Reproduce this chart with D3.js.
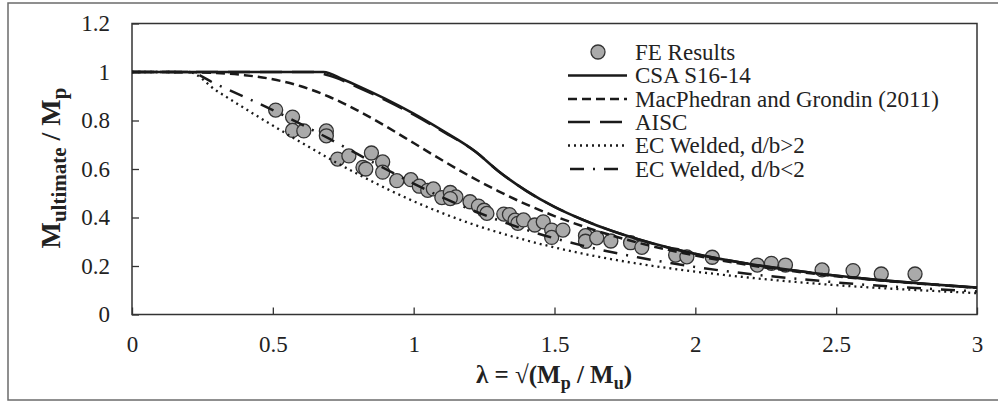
<!DOCTYPE html>
<html>
<head>
<meta charset="utf-8">
<script src="https://cdn.jsdelivr.net/npm/d3@7"></script>
<style>
  body { margin: 0; background: #fff; }
  text { font-family: "Liberation Serif", "Times New Roman", serif; fill: #222; }
  .tick text { font-size: 23px; font-family: "Liberation Serif", "Times New Roman", serif; }
  .legend text { font-size: 23px; }
  .title { font-weight: bold; }
</style>
</head>
<body>
<div class="chart"></div>
<script>
// FE results (scatter)
var feLambda = [0.51, 0.57, 0.57, 0.61, 0.69, 0.69, 0.73, 0.77, 0.85, 0.89, 0.82, 0.83, 0.89, 0.94, 0.99,
  1.02, 1.05, 1.07, 1.10, 1.13, 1.15, 1.13, 1.20, 1.23, 1.25, 1.26, 1.32, 1.34, 1.36, 1.37, 1.39, 1.43,
  1.46, 1.49, 1.49, 1.53, 1.61, 1.61, 1.65, 1.70, 1.77, 1.81, 1.93, 1.97, 2.06, 2.22, 2.27, 2.32, 2.45,
  2.56, 2.66, 2.78];
var feRatio = [0.843, 0.814, 0.759, 0.757, 0.757, 0.737, 0.641, 0.654, 0.666, 0.629, 0.607, 0.600, 0.587, 0.552, 0.556,
  0.529, 0.512, 0.518, 0.482, 0.503, 0.485, 0.478, 0.465, 0.447, 0.430, 0.417, 0.414, 0.412, 0.389, 0.376, 0.390, 0.369,
  0.382, 0.348, 0.318, 0.348, 0.325, 0.302, 0.316, 0.303, 0.296, 0.277, 0.245, 0.238, 0.236, 0.204, 0.211, 0.204, 0.184,
  0.181, 0.167, 0.167];

// CSA S16-14
var csaLambda = [0, 0.68, 0.75, 0.8, 0.9, 1.0, 1.1, 1.22, 1.3, 1.4, 1.5, 1.6, 1.7, 1.8, 2.0, 2.2, 2.4, 2.6, 2.8, 3.0];
var csaRatio = [1, 1, 0.969, 0.944, 0.889, 0.828, 0.760, 0.671, 0.592, 0.510, 0.444, 0.391, 0.346, 0.309, 0.250, 0.207, 0.174, 0.148, 0.128, 0.111];

// MacPhedran and Grondin (2011)
var mgLambda = [0, 0.2, 0.3, 0.4, 0.5, 0.6, 0.7, 0.8, 0.9, 1.0, 1.1, 1.2, 1.3, 1.4, 1.5, 1.6, 1.8, 2.0, 2.2, 2.4, 2.6, 2.8, 3.0];
var mgRatio = [1, 0.999, 0.996, 0.987, 0.970, 0.941, 0.898, 0.842, 0.777, 0.707, 0.637, 0.570, 0.509, 0.454, 0.406, 0.364, 0.295, 0.243, 0.202, 0.171, 0.146, 0.127, 0.110];

// AISC
var aiscLambda = [0, 0.64, 0.7, 0.8, 0.9, 1.0, 1.1, 1.22, 1.3, 1.4, 1.5, 1.6, 1.8, 2.0, 2.2, 2.4, 2.6, 2.8, 3.0];
var aiscRatio = [1, 1, 0.985, 0.938, 0.884, 0.824, 0.757, 0.671, 0.592, 0.510, 0.444, 0.391, 0.309, 0.250, 0.207, 0.174, 0.148, 0.128, 0.111];

// EC Welded, d/b>2
var ecdLambda = [0, 0.2, 0.3, 0.4, 0.5, 0.6, 0.7, 0.8, 0.9, 1.0, 1.1, 1.2, 1.4, 1.6, 1.8, 2.0, 2.2, 2.4, 2.6, 2.8, 3.0];
var ecdRatio = [1, 1, 0.923, 0.850, 0.779, 0.710, 0.643, 0.580, 0.521, 0.467, 0.419, 0.376, 0.306, 0.251, 0.209, 0.177, 0.151, 0.130, 0.113, 0.100, 0.088];

// EC Welded, d/b<2
var eccLambda = [0, 0.2, 0.3, 0.4, 0.5, 0.6, 0.7, 0.8, 0.9, 1.0, 1.1, 1.2, 1.4, 1.6, 1.8, 2.0, 2.2, 2.4, 2.6, 2.8, 3.0];
var eccRatio = [1, 1, 0.949, 0.897, 0.843, 0.785, 0.725, 0.662, 0.600, 0.540, 0.484, 0.434, 0.349, 0.284, 0.235, 0.196, 0.166, 0.143, 0.123, 0.108, 0.095];

var xTicks = [0, 0.5, 1, 1.5, 2, 2.5, 3];
var yTicks = [0, 0.2, 0.4, 0.6, 0.8, 1, 1.2];

var legendNames = ["FE Results", "CSA S16-14", "MacPhedran and Grondin (2011)", "AISC", "EC Welded, d/b>2", "EC Welded, d/b<2"];

// dimensions
var margin = {top: 23.5, right: 21, bottom: 87.5, left: 132};
var width = 998 - margin.left - margin.right;
var height = 402 - margin.top - margin.bottom;

var x = d3.scaleLinear().domain([0, 3]).range([0, width]);
var y = d3.scaleLinear().domain([0, 1.2]).range([height, 0]);

var svg = d3.select(".chart")
  .append("svg")
  .attr("width", 998)
  .attr("height", 402);

// outer figure border
svg.append("rect")
  .attr("x", 8).attr("y", 3)
  .attr("width", 1000).attr("height", 397)
  .attr("fill", "none")
  .attr("stroke", "#6b6b6b")
  .attr("stroke-width", 1.5);

var chart = svg.append("g")
  .attr("transform", "translate(" + margin.left + "," + margin.top + ")");

// axes (ticks inward)
chart.append("g")
  .attr("transform", "translate(0," + height + ")")
  .call(d3.axisBottom(x).tickValues(xTicks).tickFormat(d3.format("~g"))
    .tickSizeInner(-7).tickSizeOuter(0).tickPadding(21))
  .call(function(g) { g.select(".domain").remove(); });

chart.append("g")
  .call(d3.axisLeft(y).tickValues(yTicks).tickFormat(d3.format("~g"))
    .tickSizeInner(-7).tickSizeOuter(0).tickPadding(22))
  .call(function(g) { g.select(".domain").remove(); });

chart.selectAll(".tick line").attr("stroke", "#333").attr("stroke-width", 1.3);

// plot frame
chart.append("rect")
  .attr("width", width).attr("height", height)
  .attr("fill", "none")
  .attr("stroke", "#333")
  .attr("stroke-width", 1.5);

// FE results
chart.selectAll(".fe")
  .data(feLambda)
  .enter()
  .append("circle")
  .attr("class", "fe")
  .attr("cx", function(d) { return x(d); })
  .attr("cy", function(d, i) { return y(feRatio[i]); })
  .attr("r", 7)
  .attr("fill", "#aaaaaa")
  .attr("stroke", "#333")
  .attr("stroke-width", 1.3);

// design curves
var series = [
  {lam: csaLambda, val: csaRatio, dash: null, w: 2.6},
  {lam: mgLambda, val: mgRatio, dash: "9,5", w: 2.5},
  {lam: aiscLambda, val: aiscRatio, dash: "22,10", w: 2.5},
  {lam: ecdLambda, val: ecdRatio, dash: "2,4", w: 2.3},
  {lam: eccLambda, val: eccRatio, dash: "14,9,2,9", w: 2.5}
];

var line = d3.line()
  .x(function(d) { return x(d[0]); })
  .y(function(d) { return y(d[1]); })
  .curve(d3.curveMonotoneX);

series.forEach(function(s) {
  chart.append("path")
    .datum(d3.zip(s.lam, s.val))
    .attr("d", line)
    .attr("fill", "none")
    .attr("stroke", "#1a1a1a")
    .attr("stroke-width", s.w)
    .attr("stroke-dasharray", s.dash);
});

// legend
var legend = svg.append("g").attr("class", "legend");
var rowY = [52, 75.5, 99, 122, 145.5, 169];

legendNames.forEach(function(name, i) {
  if (i === 0) {
    legend.append("circle")
      .attr("cx", 598).attr("cy", rowY[i]).attr("r", 7)
      .attr("fill", "#aaaaaa").attr("stroke", "#333").attr("stroke-width", 1.3);
  } else {
    var s = series[i - 1];
    var x0 = i === 5 ? 570 : 568;
    var x1 = i === 5 ? 622 : 627;
    legend.append("line")
      .attr("x1", x0).attr("x2", x1)
      .attr("y1", rowY[i]).attr("y2", rowY[i])
      .attr("stroke", "#1a1a1a")
      .attr("stroke-width", s.w)
      .attr("stroke-dasharray", s.dash);
  }
  legend.append("text")
    .attr("x", 635)
    .attr("y", rowY[i])
    .attr("dy", "0.33em")
    .text(name);
});

// y label
var yLab = svg.append("text")
  .attr("class", "title")
  .attr("transform", "translate(60," + 168 + ") rotate(-90)")
  .attr("text-anchor", "middle")
  .style("font-size", "28px");
yLab.append("tspan").text("M");
yLab.append("tspan").attr("dy", 6).style("font-size", "21px").text("ultimate");
yLab.append("tspan").attr("dy", -6).text(" / M");
yLab.append("tspan").attr("dy", 6).style("font-size", "21px").text("p");

// x label
var xLab = svg.append("text")
  .attr("class", "title")
  .attr("x", 554)
  .attr("y", 383)
  .attr("text-anchor", "middle")
  .style("font-size", "25px");
xLab.append("tspan").text("λ = √(M");
xLab.append("tspan").attr("dy", 6).style("font-size", "18px").text("p");
xLab.append("tspan").attr("dy", -6).text(" / M");
xLab.append("tspan").attr("dy", 6).style("font-size", "18px").text("u");
xLab.append("tspan").attr("dy", -6).text(")");
</script>
</body>
</html>
